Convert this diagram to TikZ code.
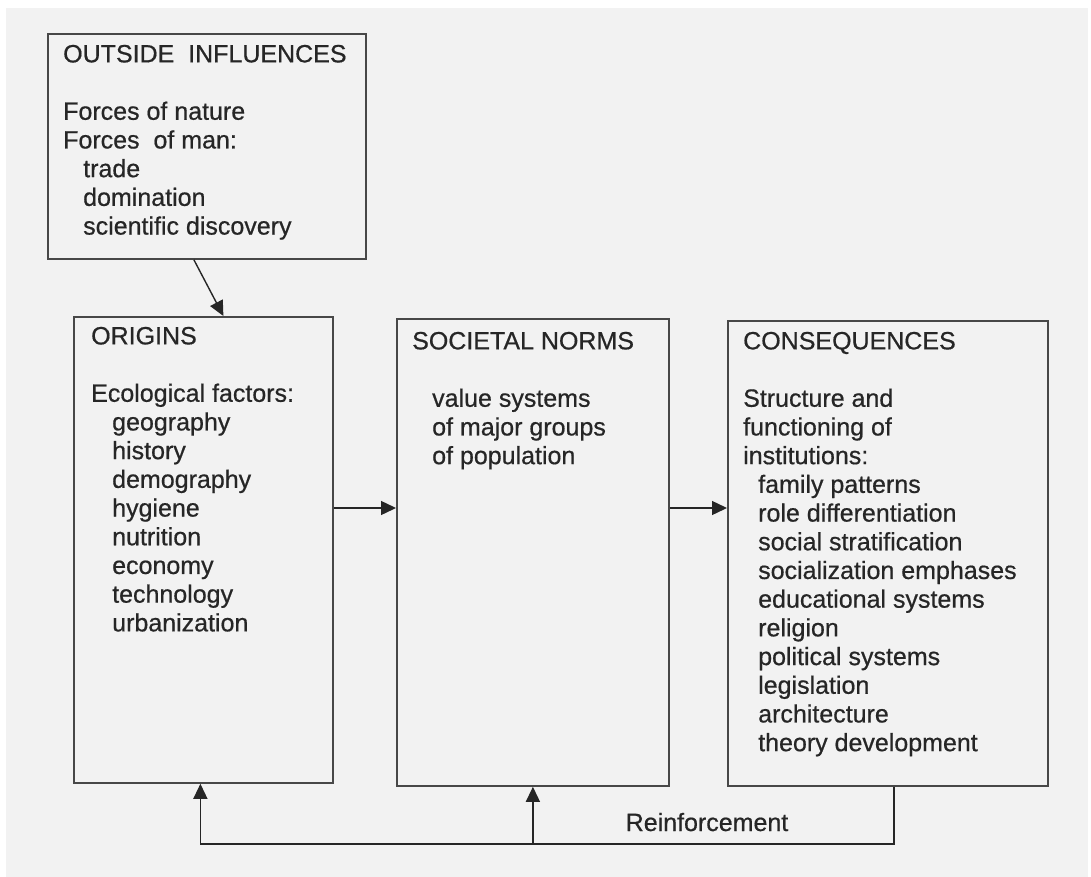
\documentclass[tikz,border=0pt]{standalone}
\usepackage{fontspec}
\setmainfont{Liberation Sans}[FakeBold=0.6]
\usetikzlibrary{arrows.meta,positioning}
\definecolor{paper}{RGB}{242,242,242}
\definecolor{ink}{RGB}{38,38,38}
\definecolor{frame}{RGB}{72,72,72}

\begin{document}
\begin{tikzpicture}[x=1pt,y=-1pt,
    box/.style={draw=frame, line width=1.8pt, anchor=north west, inner sep=0pt},
    body/.style={anchor=north west, inner sep=0pt, align=left, text=ink,
      font=\fontsize{25}{28.7}\selectfont},
    flow/.style={draw=ink, line width=1.4pt, -{Triangle[length=15pt,width=14pt]}}]
    % page and grey scan background
    \fill[white] (0,0) rectangle (1091,877);
    \fill[paper] (6,8) rectangle (1088,877);
    \useasboundingbox (0,0) rectangle (1091,877);

    % the four boxes
    \node[box, minimum width=318pt, minimum height=225pt] (outside) at (47,33) {};
    \node[box, minimum width=259pt, minimum height=466pt] (origins) at (73,316) {};
    \node[box, minimum width=272pt, minimum height=467pt] (norms) at (396,318) {};
    \node[box, minimum width=320pt, minimum height=465pt] (cons) at (727,320) {};

    % box texts
    \node[body] (outside-txt) at (63,44.7) {OUTSIDE\ \ INFLUENCES\\[28.7pt]
      Forces of nature\\
      Forces\ \ of man:\\
      \hspace*{20pt}trade\\
      \hspace*{20pt}domination\\
      \hspace*{20pt}scientific discovery};
    \node[body] (origins-txt) at (91,326.7) {ORIGINS\\[28.7pt]
      Ecological factors:\\
      \hspace*{21pt}geography\\
      \hspace*{21pt}history\\
      \hspace*{21pt}demography\\
      \hspace*{21pt}hygiene\\
      \hspace*{21pt}nutrition\\
      \hspace*{21pt}economy\\
      \hspace*{21pt}technology\\
      \hspace*{21pt}urbanization};
    \node[body] (norms-txt) at (412,331.7) {SOCIETAL NORMS\\[28.7pt]
      \hspace*{20pt}value systems\\
      \hspace*{20pt}of major groups\\
      \hspace*{20pt}of population};
    \node[body] (cons-txt) at (743,331.7) {CONSEQUENCES\\[28.7pt]
      Structure and\\
      functioning of\\
      institutions:\\
      \hspace*{15pt}family patterns\\
      \hspace*{15pt}role differentiation\\
      \hspace*{15pt}social stratification\\
      \hspace*{15pt}socialization emphases\\
      \hspace*{15pt}educational systems\\
      \hspace*{15pt}religion\\
      \hspace*{15pt}political systems\\
      \hspace*{15pt}legislation\\
      \hspace*{15pt}architecture\\
      \hspace*{15pt}theory development};

    % main chain
    \coordinate (lvl) at (0,508);
    \draw[flow] ([xshift=-13pt]outside.south) -- ([xshift=20pt]origins.north);
    \draw[flow] (origins.east |- lvl) -- (norms.west |- lvl);
    \draw[flow] (norms.east |- lvl) -- (cons.west |- lvl);

    % feedback loop
    \coordinate (fb) at (0,844);
    \draw[flow] ([xshift=6pt]cons.south) |- ([xshift=-3pt]origins.south |- fb)
      -- ([xshift=-3pt]origins.south);
    \draw[flow] (norms.south |- fb) -- (norms.south);
    \node[anchor=base, inner sep=0pt, text=ink, font=\fontsize{25}{28.7}\selectfont]
      (reinf) at (707,831) {Reinforcement};
\end{tikzpicture}
\end{document}
